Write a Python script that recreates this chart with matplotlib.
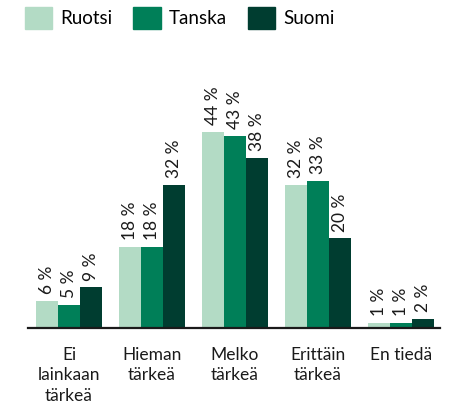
import numpy as np
import matplotlib
matplotlib.use("Agg")
import matplotlib.pyplot as plt
from matplotlib.patches import Patch

plt.rcParams['font.family'] = ['Lato', 'DejaVu Sans']

categories = ['Ei\nlainkaan\ntärkeä', 'Hieman\ntärkeä', 'Melko\ntärkeä', 'Erittäin\ntärkeä', 'En tiedä']
series = ['Ruotsi', 'Tanska', 'Suomi']
ruotsi = [6, 18, 44, 32, 1]
tanska = [5, 18, 43, 33, 1]
suomi = [9, 32, 38, 20, 2]
colors = ['#b3dbc5', '#007f58', '#003d30']

values = [ruotsi, tanska, suomi]
x = np.arange(len(categories))
w = 0.265

fig = plt.figure(figsize=(4.5, 4.03), dpi=100)
ax = fig.add_axes([28/450, 1 - 327.5/403, 412/450, 222.5/403])

for i, (vals, c) in enumerate(zip(values, colors)):
    bars = ax.bar(x + (i - 1) * w, vals, w, color=c, zorder=2)
    for b, v in zip(bars, vals):
        ax.annotate(f'{v} %', (b.get_x() + b.get_width() / 2, b.get_height()),
                    xytext=(0, 5), textcoords='offset points', rotation=90,
                    ha='center', va='bottom', fontsize=12.5, color='#1a1a1a')

ax.set_xlim(-0.494, 4.47)
ax.set_ylim(0, 50)
ax.set_xticks(x)
ax.set_xticklabels(categories, fontsize=12.5, color='#1a1a1a', linespacing=1.35)
ax.tick_params(axis='x', length=0, pad=14)
ax.set_yticks([])
for s in ['left', 'right', 'top']:
    ax.spines[s].set_visible(False)
ax.spines['bottom'].set_linewidth(1.6)
ax.spines['bottom'].set_color('#1a1a1a')
ax.spines['bottom'].set_zorder(3)

handles = [Patch(color=c, label=s) for s, c in zip(series, colors)]
fig.legend(handles=handles, loc='upper left', bbox_to_anchor=(25/450, 1 - 7/403),
           ncol=3, frameon=False, fontsize=13.5, handlelength=1.45, handleheight=1.45,
           handletextpad=0.45, columnspacing=1.1, borderpad=0, borderaxespad=0)

fig.savefig('out.png', dpi=100)
